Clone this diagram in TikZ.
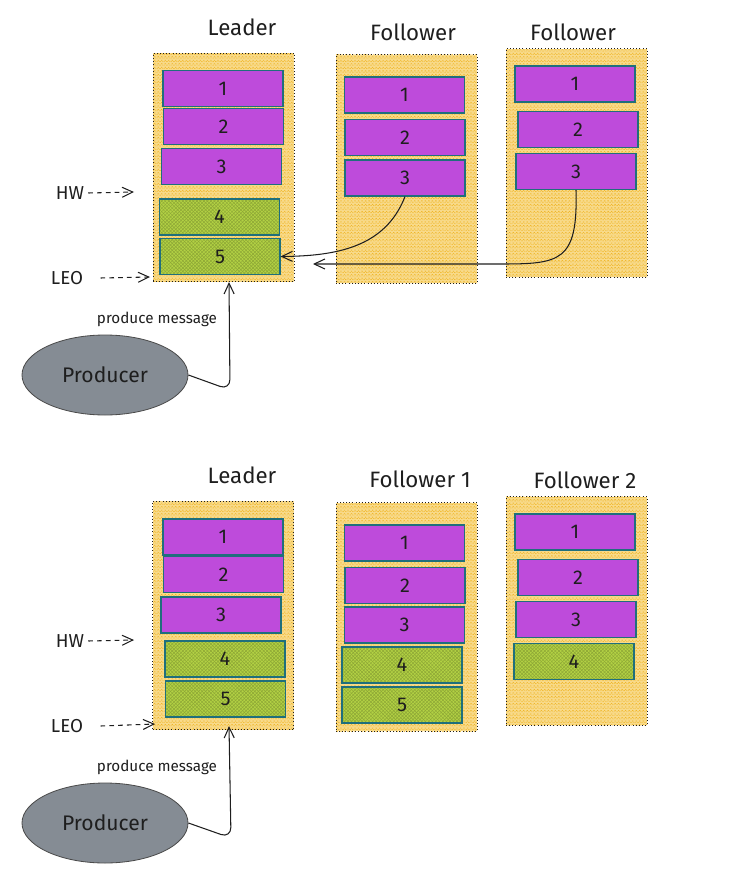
\documentclass[tikz,border=0pt]{standalone}
\usepackage{fontspec}
\setmainfont{Fira Sans}
\usetikzlibrary{positioning, arrows.meta, patterns, shapes.geometric}

\definecolor{inkc}{HTML}{1E1E1E}
\definecolor{msgc}{HTML}{BE4BDB}
\definecolor{newc}{HTML}{B2D144}
\definecolor{edgec}{HTML}{1F6F7C}
\definecolor{logc}{HTML}{F8DA8A}
\definecolor{hatchc}{HTML}{EFB21C}
\definecolor{prodc}{HTML}{858C94}

\begin{document}
\begin{tikzpicture}[
    x=0.3mm, y=-0.3mm,
    >={Straight Barb[length=3.2mm, width=3mm]},
    every node/.style = {text=inkc},
    title/.style      = {font=\fontsize{19}{23}\selectfont},
    log/.style        = {rectangle, draw=inkc, dotted, line width=0.7pt,
                         minimum width=42.3mm, minimum height=68.6mm,
                         preaction={fill=logc}, preaction={pattern=crosshatch, pattern color=hatchc}},
    msg/.style        = {rectangle, draw=edgec, line width=1pt,
                         minimum width=36mm, minimum height=10.8mm, fill=msgc,
                         font=\fontsize{17}{20}\selectfont},
    new/.style        = {msg, fill=none, preaction={fill=newc},
                         preaction={pattern=crosshatch, pattern color=newc!80!black}},
    ptrlabel/.style   = {font=\fontsize{16}{19}\selectfont},
    prod/.style       = {ellipse, draw=inkc!80, line width=0.7pt, fill=prodc,
                         minimum width=49.8mm, minimum height=24mm,
                         font=\fontsize{18}{22}\selectfont},
    line/.style       = {->, inkc, line width=0.9pt},
    ptr/.style        = {->, inkc, dash pattern=on 4pt off 3.5pt, line width=0.9pt}
]
\useasboundingbox (0,0) rectangle (744,883);

%%%%%%%%%%%%%%%% top: followers still fetching
% Logs
\node[log] (tL)  at (223.5,167.5) {};
\node[log] (tF1) at (406.5,169) {};
\node[log] (tF2) at (576.5,163) {};
\node[title] at (242,27) {Leader};
\node[title] at (413,32) {Follower};
\node[title] at (573,32) {Follower};

% Leader messages
\node[msg] (tL1) at (223,88.5)  {1};
\node[msg] (tL2) at (223.5,126.5) {2};
\node[msg] (tL3) at (221.5,166.5) {3};
\node[new] (tL4) at (219.5,217) {4};
\node[new] (tL5) at (220,256.5) {5};

% Follower messages
\node[msg] (tF1a) at (404.5,95)  {1};
\node[msg] (tF1b) at (405,137.5) {2};
\node[msg] (tF1c) at (405,178)   {3};
\node[msg] (tF2a) at (575,84)    {1};
\node[msg] (tF2b) at (578,129.5) {2};
\node[msg] (tF2c) at (576,171.5) {3};

% HW and LEO markers
\node[ptrlabel] (tHW)  at (70,193)  {HW};
\node[ptrlabel] (tLEO) at (67,278)  {LEO};
\coordinate (tHWp)  at (134,192);
\coordinate (tLEOp) at (150,277);
\draw[ptr] (tHW.east) -- (tHWp);
\draw[ptr] ([xshift=4mm]tLEO.east) -- (tLEOp);

% Fetch requests
\coordinate (tTip) at (313,264);
\draw[line] (tF1c.south) .. controls (385,248) and (335,256) .. (tL5.east);
\draw[line] (tF2c.south) .. controls (578,262) and (560,264) .. (500,264) -- (tTip);

% Producer
\node[prod] (tP) at (105,375) {Producer};
\node[font=\fontsize{13}{16}\selectfont] at (157,319) {produce message};
\coordinate (tIn) at (229,282);
\draw[line, rounded corners=9pt] (tP.east) -- (230,390) -- (tIn);

%%%%%%%%%%%%%%%% bottom: after fetching
% Logs
\node[log] (bL)  at (223,615.5) {};
\node[log] (bF1) at (406.5,617) {};
\node[log] (bF2) at (576.5,611) {};
\node[title] at (242,475) {Leader};
\node[title] at (420,479) {Follower 1};
\node[title] at (585,480) {Follower 2};

% Leader messages
\node[msg] (bL1) at (223,537)   {1};
\node[msg] (bL2) at (223.5,574.5) {2};
\node[msg] (bL3) at (221,615)   {3};
\node[new] (bL4) at (225,659)   {4};
\node[new] (bL5) at (225.5,699) {5};

% Follower messages
\node[msg] (bF1a) at (404.5,543) {1};
\node[msg] (bF1b) at (405,585.5) {2};
\node[msg] (bF1c) at (404.5,625) {3};
\node[new] (bF1d) at (402,665)   {4};
\node[new] (bF1e) at (402,705)   {5};
\node[msg] (bF2a) at (575,532)   {1};
\node[msg] (bF2b) at (578,577.5) {2};
\node[msg] (bF2c) at (576,619.5) {3};
\node[new] (bF2d) at (574,661.5) {4};

% HW and LEO markers
\node[ptrlabel] (bHW)  at (70,641) {HW};
\node[ptrlabel] (bLEO) at (67,726) {LEO};
\coordinate (bHWp)  at (134,640);
\coordinate (bLEOp) at (155,724);
\draw[ptr] (bHW.east) -- (bHWp);
\draw[ptr] ([xshift=4mm]bLEO.east) -- (bLEOp);

% Producer
\node[prod] (bP) at (105,823) {Producer};
\node[font=\fontsize{13}{16}\selectfont] at (157,767) {produce message};
\coordinate (bIn) at (229,726);
\draw[line, rounded corners=9pt] (bP.east) -- (231,838) -- (bIn);

\end{tikzpicture}
\end{document}
